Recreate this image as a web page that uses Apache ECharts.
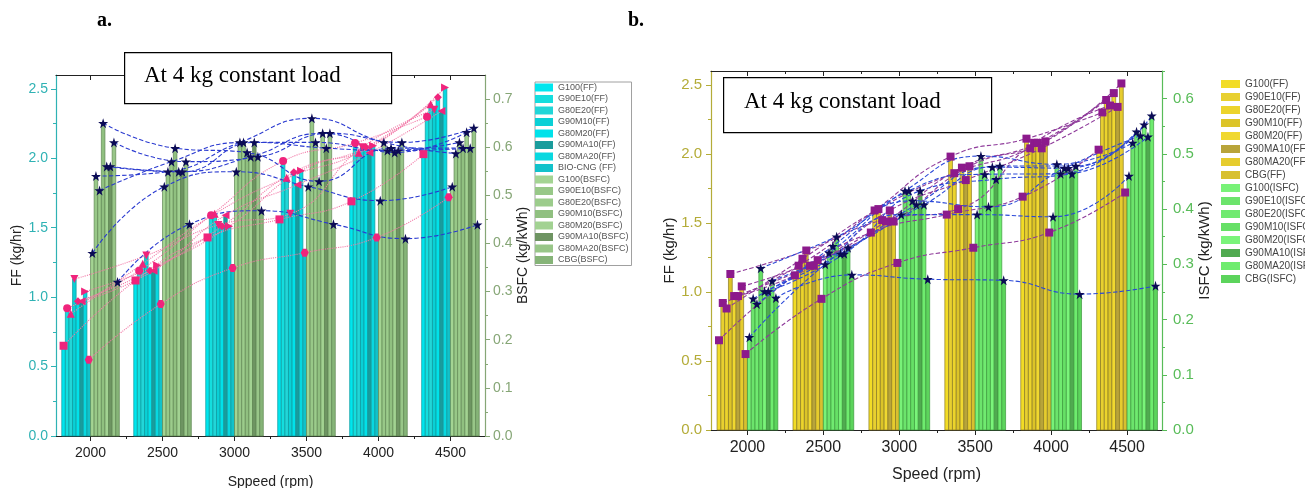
<!DOCTYPE html>
<html><head><meta charset="utf-8">
<script src="https://cdn.jsdelivr.net/npm/echarts@6/dist/echarts.min.js"></script>
<style>html,body{margin:0;padding:0;background:#fff}#c{width:1305px;height:488px}</style>
</head><body><div id="c"></div>
<script>
// ---------- data ----------
const speeds = [2000, 2500, 3000, 3500, 4000, 4500];
const speedTicks = [2000, 2500, 3000, 3500, 4000, 4500];
const ffTicks = [0, 0.5, 1.0, 1.5, 2.0, 2.5];
const bsfcTicks = [0, 0.1, 0.2, 0.3, 0.4, 0.5, 0.6, 0.7];
const isfcTicks = [0, 0.1, 0.2, 0.3, 0.4, 0.5, 0.6];

const ffNamesA = ['G100(FF)','G90E10(FF)','G80E20(FF)','G90M10(FF)','G80M20(FF)','G90MA10(FF)','G80MA20(FF)','BIO-CNG (FF)'];
const bsfcNamesA = ['G100(BSFC)','G90E10(BSFC)','G80E20(BSFC)','G90M10(BSFC)','G80M20(BSFC)','G90MA10(BSFC)','G80MA20(BSFC)','CBG(BSFC)'];
const ffNamesB = ['G100(FF)','G90E10(FF)','G80E20(FF)','G90M10(FF)','G80M20(FF)','G90MA10(FF)','G80MA20(FF)','CBG(FF)'];
const isfcNamesB = ['G100(ISFC)','G90E10(ISFC)','G80E20(ISFC)','G90M10(ISFC)','G80M20(ISFC)','G90MA10(ISFC)','G80MA20(ISFC)','CBG(ISFC)'];

// fuel flow (kg/hr), one row per fuel, one value per speed
const ffG100    = [0.65, 1.12, 1.43, 1.56, 1.69, 2.03];
const ffG90E10  = [0.92, 1.19, 1.59, 1.98, 2.11, 2.30];
const ffG80E20  = [0.88, 1.24, 1.60, 1.86, 2.04, 2.39];
const ffG90M10  = [1.13, 1.30, 1.52, 1.60, 2.08, 2.35];
const ffG80M20  = [0.97, 1.19, 1.51, 1.90, 2.08, 2.44];
const ffG90MA10 = [0.97, 1.19, 1.59, 1.81, 2.04, 2.34];
const ffG80MA20 = [1.04, 1.23, 1.51, 1.91, 2.09, 2.51];
const ffCBG     = [0.55, 0.95, 1.21, 1.32, 1.43, 1.72];

// BSFC (kg/kWh), panel a
const bsfcG100    = [0.38, 0.518, 0.549, 0.518, 0.489, 0.518];
const bsfcG90E10  = [0.54, 0.549, 0.61, 0.66, 0.61, 0.587];
const bsfcG80E20  = [0.51, 0.57, 0.61, 0.61, 0.593, 0.61];
const bsfcG90M10  = [0.65, 0.598, 0.589, 0.529, 0.598, 0.598];
const bsfcG80M20  = [0.56, 0.549, 0.58, 0.629, 0.589, 0.631];
const bsfcG90MA10 = [0.56, 0.549, 0.61, 0.598, 0.593, 0.598];
const bsfcG80MA20 = [0.61, 0.57, 0.58, 0.629, 0.61, 0.64];
const bsfcCBG     = [0.32, 0.44, 0.468, 0.44, 0.41, 0.439];

// ISFC (kg/kWh), panel b
const isfcG100    = [0.168, 0.30, 0.39, 0.39, 0.386, 0.46];
const isfcG90E10  = [0.238, 0.321, 0.433, 0.496, 0.481, 0.52];
const isfcG80E20  = [0.228, 0.333, 0.433, 0.463, 0.464, 0.54];
const isfcG90M10  = [0.293, 0.35, 0.415, 0.404, 0.474, 0.533];
const isfcG80M20  = [0.251, 0.319, 0.408, 0.476, 0.474, 0.553];
const isfcG90MA10 = [0.251, 0.319, 0.433, 0.454, 0.464, 0.531];
const isfcG80MA20 = [0.27, 0.33, 0.408, 0.478, 0.478, 0.569];
const isfcCBG     = [0.239, 0.281, 0.273, 0.271, 0.246, 0.261];

const ffValues = [ffG100, ffG90E10, ffG80E20, ffG90M10, ffG80M20, ffG90MA10, ffG80MA20, ffCBG];
const bsfcValues = [bsfcG100, bsfcG90E10, bsfcG80E20, bsfcG90M10, bsfcG80M20, bsfcG90MA10, bsfcG80MA20, bsfcCBG];
const isfcValues = [isfcG100, isfcG90E10, isfcG80E20, isfcG90M10, isfcG80M20, isfcG90MA10, isfcG80MA20, isfcCBG];

// ---------- styles ----------
const ffColorsA = ['#00e6ee','#14dede','#22d6d8','#0ad0d6','#00e2ea','#1a9c9c','#08d8e0','#12c2ca'];
const bsfcColorsA = ['#a4d493','#98c888','#9ccc8c','#90c080','#a2d292','#6e9462','#98c688','#86b478'];
const ffColorsB = ['#f2dc26','#e8d030','#ecd42c','#dcc428','#f0d830','#b8a43a','#e6cc2e','#d8c030'];
const isfcColorsB = ['#78f278','#6ce46c','#70ea70','#66e066','#7af47a','#50aa50','#6eec6e','#5cd45c'];
const pinkSymbols = ['rect','circle','triangle','triangle','diamond','triangle','triangle','path://M25,0 L75,0 L100,50 L75,100 L25,100 L0,50 Z'];
const pinkRotate = [0,0,0,180,0,90,-90,0];
const STAR = 'path://M50,0 L61,35 L98,35 L68,57 L79,91 L50,70 L21,91 L32,57 L2,35 L39,35 Z';
const HALF = 12.5, STEP = 25, GROUP = 200;

function barSeries(name, xi, yi, pts, color, stroke) {
  return {
    type: 'custom', name: name, xAxisIndex: xi, yAxisIndex: yi, data: pts,
    itemStyle: { color: color }, encode: { x: 0, y: 1 }, z: 2, silent: true,
    renderItem: function (params, api) {
      const x = api.value(0), y = api.value(1);
      const p0 = api.coord([x - HALF, y]);
      const p1 = api.coord([x + HALF, 0]);
      return { type: 'rect', shape: { x: p0[0], y: p0[1], width: p1[0] - p0[0], height: p1[1] - p0[1] },
        style: { fill: color, stroke: stroke, lineWidth: 0.7 } };
    }
  };
}
function lineSeries(name, xi, yi, pts, sym, rot, size, color, lcolor, ltype) {
  return {
    type: 'line', name: name, xAxisIndex: xi, yAxisIndex: yi, data: pts, smooth: 0.5,
    symbol: sym, symbolRotate: rot, symbolSize: size, showSymbol: true, z: 5, silent: true,
    itemStyle: { color: color }, lineStyle: { color: lcolor, width: 1.1, type: ltype }
  };
}

const series = [];
// panel a bars
ffValues.forEach((vals, i) => series.push(barSeries(ffNamesA[i], 0, 0,
  speeds.map((s, k) => [s - GROUP + STEP * i + HALF, vals[k]]), ffColorsA[i], '#0c9a9e')));
bsfcValues.forEach((vals, i) => series.push(barSeries(bsfcNamesA[i], 0, 1,
  speeds.map((s, k) => [s + STEP * i + HALF, vals[k]]), bsfcColorsA[i], '#5e8752')));
// panel b bars
ffValues.forEach((vals, i) => series.push(barSeries('b:' + ffNamesB[i], 2, 2,
  speeds.map((s, k) => [s - GROUP + STEP * i + HALF, vals[k]]), ffColorsB[i], '#8a7a24')));
isfcValues.forEach((vals, i) => series.push(barSeries('b:' + isfcNamesB[i], 2, 3,
  speeds.map((s, k) => [s + STEP * i + HALF, vals[k]]), isfcColorsB[i], '#3c9a3c')));
// panel a lines + markers
ffValues.forEach((vals, i) => series.push(lineSeries('la_ff' + i, 0, 0,
  speeds.map((s, k) => [s - GROUP + STEP * i + HALF, vals[k]]), pinkSymbols[i], pinkRotate[i], 8, '#f0247c', '#f27aa8', 'dotted')));
bsfcValues.forEach((vals, i) => series.push(lineSeries('la_bs' + i, 0, 1,
  speeds.map((s, k) => [s + STEP * i + HALF, vals[k]]), STAR, 0, 10, '#0b0b55', '#2a3ad0', 'dashed')));
// panel b lines + markers
ffValues.forEach((vals, i) => series.push(lineSeries('lb_ff' + i, 2, 2,
  speeds.map((s, k) => [s - GROUP + STEP * i + HALF, vals[k]]), 'rect', 0, 8, '#8c1a8c', '#8e3a9a', 'dashed')));
isfcValues.forEach((vals, i) => series.push(lineSeries('lb_is' + i, 2, 3,
  speeds.map((s, k) => [s + STEP * i + HALF, vals[k]]), STAR, 0, 10, '#0b0b55', '#2a48d8', 'dashed')));

function xBottom(grid, min, max, name, fs, gap) {
  return { type: 'value', gridIndex: grid, position: 'bottom', min: min, max: max,
    name: name, nameLocation: 'middle', nameGap: gap,
    nameTextStyle: { fontFamily: 'Liberation Sans', fontSize: fs, color: '#222' },
    axisLine: { show: true, onZero: false, lineStyle: { color: '#222', width: 1.2 } },
    axisTick: { show: true, length: 5, customValues: speedTicks, lineStyle: { color: '#222' } },
    minorTick: { show: true, splitNumber: 2, length: 3, lineStyle: { color: '#222' } },
    axisLabel: { customValues: speedTicks, formatter: v => String(Math.round(v)),
      fontFamily: 'Liberation Sans', fontSize: fs, color: '#222', margin: 10 },
    splitLine: { show: false }, minorSplitLine: { show: false } };
}
function xTop(grid, min, max) {
  return { type: 'value', gridIndex: grid, position: 'top', min: min, max: max,
    axisLine: { show: true, onZero: false, lineStyle: { color: '#222', width: 1.2 } },
    axisTick: { show: true, inside: true, length: 5, customValues: speedTicks, lineStyle: { color: '#222' } },
    minorTick: { show: true, splitNumber: 2, length: 3, lineStyle: { color: '#222' } },
    axisLabel: { show: false }, splitLine: { show: false } };
}
function yAxis(grid, pos, max, interval, ticks, color, name, fs, gap, margin) {
  return { type: 'value', gridIndex: grid, position: pos, min: 0, max: max, interval: interval,
    name: name, nameLocation: 'middle', nameRotate: 90, nameGap: gap,
    nameTextStyle: { fontFamily: 'Liberation Sans', fontSize: fs, color: '#222' },
    axisLine: { show: true, onZero: false, lineStyle: { color: color, width: 1.2 } },
    axisTick: { show: true, length: 5, customValues: ticks, lineStyle: { color: color } },
    minorTick: { show: true, splitNumber: 2, length: 3, lineStyle: { color: color } },
    axisLabel: { customValues: ticks, formatter: v => Number(v).toFixed(1), fontFamily: 'Liberation Sans',
      fontSize: fs, color: color, margin: margin },
    splitLine: { show: false } };
}

const option = {
  animation: false,
  backgroundColor: '#ffffff',
  grid: [
    { left: 56, top: 75, width: 429, height: 361, outerBoundsMode: 'none', containLabel: false },
    { left: 711, top: 71, width: 451, height: 359, outerBoundsMode: 'none', containLabel: false }
  ],
  xAxis: [
    xBottom(0, 1760, 4740, 'Sppeed (rpm)', 14, 39),
    xTop(0, 1760, 4740),
    xBottom(1, 1760, 4730, 'Speed (rpm)', 16, 37),
    xTop(1, 1760, 4730)
  ],
  yAxis: [
    yAxis(0, 'left', 2.6, 0.5, ffTicks, '#2fb2b4', 'FF (kg/hr)', 14, 31, 8),
    yAxis(0, 'right', 0.75, 0.1, bsfcTicks, '#86a676', 'BSFC (kg/kWh)', 14, 31, 8),
    yAxis(1, 'left', 2.6, 0.5, ffTicks, '#b4ac38', 'FF (kg/hr)', 15, 34, 9),
    yAxis(1, 'right', 0.65, 0.1, isfcTicks, '#58bc58', 'ISFC (kg/kWh)', 15, 31, 11)
  ],
  legend: [
    { data: ffNamesA.concat(bsfcNamesA), orient: 'vertical', left: 535, top: 82, icon: 'rect',
      itemWidth: 18, itemHeight: 8, itemGap: 2.5, selectedMode: false,
      borderColor: '#a0a0a0', borderWidth: 1, padding: [1, 3, 1, 0],
      textStyle: { fontFamily: 'Liberation Sans', fontSize: 9, color: '#555', lineHeight: 8 } },
    { data: ffNamesB.concat(isfcNamesB).map(n => 'b:' + n), orient: 'vertical', left: 1221, top: 79, icon: 'rect',
      itemWidth: 19, itemHeight: 8, itemGap: 3, selectedMode: false, padding: 0,
      formatter: n => n.slice(2),
      textStyle: { fontFamily: 'Liberation Sans', fontSize: 10, color: '#444', lineHeight: 8 } }
  ],
  graphic: [
    { type: 'text', left: 97, top: 11, style: { text: 'a.', font: 'bold 20px "Liberation Serif"', fill: '#000' } },
    { type: 'text', left: 628, top: 11, style: { text: 'b.', font: 'bold 20px "Liberation Serif"', fill: '#000' } },
    { type: 'rect', left: 124, top: 52, z: 20, shape: { width: 267, height: 51 },
      style: { fill: '#fff', stroke: '#000', lineWidth: 1.2 } },
    { type: 'text', left: 144, top: 64, z: 21, style: { text: 'At 4 kg constant load', font: '23px "Liberation Serif"', fill: '#000' } },
    { type: 'rect', left: 723, top: 77, z: 20, shape: { width: 268, height: 55 },
      style: { fill: '#fff', stroke: '#000', lineWidth: 1.2 } },
    { type: 'text', left: 744, top: 90, z: 21, style: { text: 'At 4 kg constant load', font: '23px "Liberation Serif"', fill: '#000' } }
  ],
  series: series
};
const chart = echarts.init(document.getElementById('c'), null, { renderer: 'canvas' });
chart.setOption(option);
</script>
</body></html>
